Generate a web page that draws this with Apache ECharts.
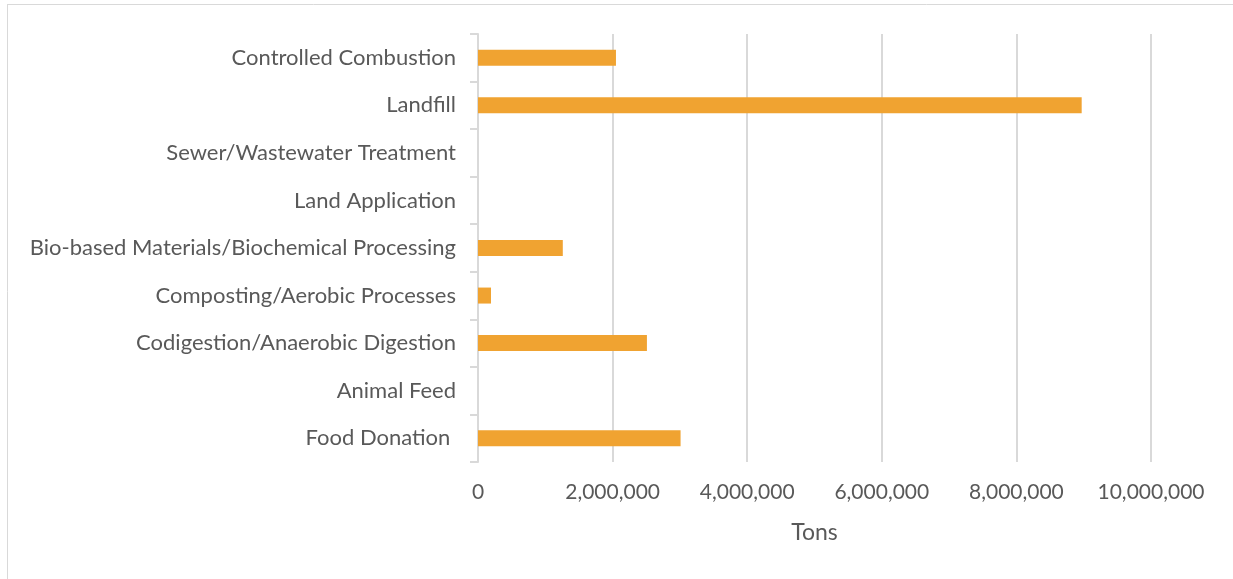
<!DOCTYPE html>
<html>
<head>
<meta charset="utf-8">
<script src="https://cdn.jsdelivr.net/npm/echarts@6/dist/echarts.min.js"></script>
<style>
  html, body { margin: 0; padding: 0; background: #ffffff; }
  #chart { width: 1233px; height: 579px; }
</style>
</head>
<body>
<div id="chart"></div>
<script>
// Food waste management pathways, tons per year (bottom to top on the axis)
const categories = [
  'Food Donation ',
  'Animal Feed',
  'Codigestion/Anaerobic Digestion',
  'Composting/Aerobic Processes',
  'Bio-based Materials/Biochemical Processing',
  'Land Application',
  'Sewer/Wastewater Treatment',
  'Landfill',
  'Controlled Combustion'
];
const tons = [3010000, 0, 2510000, 193000, 1260000, 0, 0, 8970000, 2050000];
const axisMax = 10000000;
const axisStep = 2000000;

const FONT = 'Lato';
const TEXT = '#595959';

const chart = echarts.init(document.getElementById('chart'), null, { renderer: 'canvas' });
chart.setOption({
  animation: false,
  backgroundColor: '#ffffff',
  textStyle: { fontFamily: FONT },
  grid: { left: 478, right: 82, top: 34, bottom: 117 },
  graphic: [
    { type: 'line', shape: { x1: 7, y1: 4.5, x2: 1233, y2: 4.5 }, style: { stroke: '#d9d9d9', lineWidth: 1 } },
    { type: 'line', shape: { x1: 7.5, y1: 4, x2: 7.5, y2: 579 }, style: { stroke: '#d9d9d9', lineWidth: 1 } }
  ],
  xAxis: {
    type: 'value',
    min: 0,
    max: axisMax,
    interval: axisStep,
    name: 'Tons',
    nameLocation: 'middle',
    nameGap: 59,
    nameTextStyle: { color: TEXT, fontSize: 23, fontFamily: FONT },
    axisLine: { show: false },
    axisTick: { show: false },
    axisLabel: {
      color: TEXT, fontSize: 21, fontFamily: FONT, margin: 20,
      formatter: v => v.toLocaleString('en-US')
    },
    splitLine: { show: true, lineStyle: { color: '#d9d9d9', width: 2 } }
  },
  yAxis: {
    type: 'category',
    data: categories,
    axisLine: { show: true, lineStyle: { color: '#d9d9d9', width: 2 } },
    axisTick: { show: true, length: 8, lineStyle: { color: '#d9d9d9', width: 2 } },
    axisLabel: { color: TEXT, fontSize: 22, fontFamily: FONT, margin: 22 }
  },
  series: [{
    type: 'bar',
    data: tons,
    barWidth: 16,
    itemStyle: { color: '#F0A331' }
  }]
});
</script>
</body>
</html>
